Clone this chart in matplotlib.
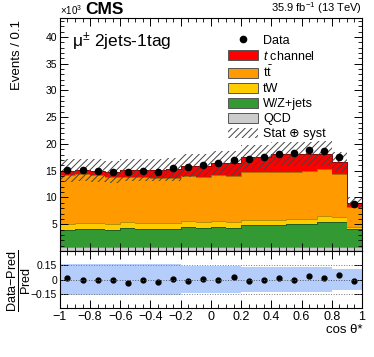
import numpy as np
import matplotlib.pyplot as plt
from matplotlib.patches import Patch
from matplotlib.lines import Line2D
from matplotlib.ticker import MultipleLocator, FixedLocator

plt.rcParams['font.family'] = ['Liberation Sans', 'DejaVu Sans']
plt.rcParams['mathtext.fontset'] = 'custom'
plt.rcParams['mathtext.rm'] = 'Liberation Sans'
plt.rcParams['mathtext.it'] = 'Liberation Sans:italic'
plt.rcParams['mathtext.bf'] = 'Liberation Sans:bold'
plt.rcParams['hatch.linewidth'] = 0.7

# 20 bins of cos theta*, width 0.1 (values in units of 10^3 events)
edges = np.round(np.linspace(-1, 1, 21), 2)
centers = 0.5 * (edges[:-1] + edges[1:])

qcd = [0.75] * 20
# cumulative tops
wz_top = [3.93, 4.18, 4.18, 3.87, 4.25, 4.06, 4.06, 4.06, 4.55, 4.37,
          4.50, 4.30, 4.87, 4.81, 4.81, 5.00, 5.00, 5.50, 5.43, 4.18]
tw_top = [5.00, 5.19, 5.19, 5.00, 5.43, 5.30, 5.19, 5.19, 5.62, 5.50,
          5.62, 5.43, 5.87, 5.80, 5.80, 5.93, 5.93, 6.50, 6.37, 4.50]
tt_top = [14.2, 14.4, 14.2, 13.9, 13.9, 13.75, 13.55, 13.55, 14.05, 13.9,
          14.2, 14.05, 14.7, 14.7, 14.8, 14.8, 15.0, 15.3, 14.4, 8.25]
tch_top = [15.0, 15.1, 15.0, 14.8, 15.1, 15.1, 15.1, 15.3, 15.9, 15.9,
           16.4, 16.4, 17.6, 17.6, 18.1, 18.1, 18.1, 18.2, 16.6, 9.05]
data = [15.13, 15.2, 14.94, 14.7, 14.7, 14.94, 14.8, 15.5, 15.75, 16.1,
        16.4, 17.0, 17.2, 17.5, 18.1, 18.25, 18.9, 18.6, 17.6, 8.86]
ratio = [0.021, 0.0, -0.007, -0.005, -0.035, -0.008, -0.025, 0.01, -0.015, 0.005,
         -0.007, 0.025, -0.015, -0.007, 0.017, 0.0, 0.035, 0.015, 0.045, -0.02]
unc_rel = [0.14] * 8 + [0.135] * 4 + [0.125] * 6 + [0.115] * 2
ratio_unc = [0.165] * 8 + [0.145] * 4 + [0.127] * 6 + [0.115] * 2

qcd = np.array(qcd)
wz_top = np.array(wz_top)
tw_top = np.array(tw_top)
tt_top = np.array(tt_top)
tch_top = np.array(tch_top)
unc_rel = np.array(unc_rel)
ratio_unc = np.array(ratio_unc)

c_tch = '#ff0000'
c_tt = '#ff9a00'
c_tw = '#ffcc00'
c_wz = '#339933'
c_qcd = '#cccccc'

fig = plt.figure(figsize=(3.74, 3.57), dpi=100)
ax = fig.add_axes([0.160, 0.297, 0.808, 0.652])
rax = fig.add_axes([0.160, 0.137, 0.808, 0.160])

zero = np.zeros(20)
layers = [(zero, qcd, c_qcd, '#888888'),
          (qcd, wz_top, c_wz, '#1f5f1f'),
          (wz_top, tw_top, c_tw, '#b38f00'),
          (tw_top, tt_top, c_tt, '#b36b00'),
          (tt_top, tch_top, c_tch, '#990000')]
for base, top, fc, ec in layers:
    ax.stairs(top, edges, baseline=base, fill=True, facecolor=fc, lw=0)
    ax.stairs(top, edges, color=ec, lw=0.7)

ax.stairs(tch_top * (1 + unc_rel), edges, baseline=tch_top * (1 - unc_rel),
          fill=True, facecolor='none', edgecolor='#444444', hatch='/////', lw=0)

ax.plot(centers, data, 'o', color='black', markersize=4.5)

ax.set_xlim(-1, 1)
ax.set_ylim(0, 43.5)
ax.yaxis.set_major_locator(FixedLocator([5, 10, 15, 20, 25, 30, 35, 40]))
ax.yaxis.set_minor_locator(MultipleLocator(1))
ax.xaxis.set_major_locator(MultipleLocator(0.2))
ax.xaxis.set_minor_locator(MultipleLocator(0.05))
ax.tick_params(axis='x', labelbottom=False)
for a in (ax, rax):
    a.tick_params(which='both', direction='in', top=True, right=True, labelsize=7.5)
    a.tick_params(which='major', length=6, width=0.7)
    a.tick_params(which='minor', length=3, width=0.6)
    for s in a.spines.values():
        s.set_linewidth(0.8)
ax.tick_params(axis='y', pad=2)

handles = [Line2D([], [], marker='o', color='black', ls='none', markersize=4.5),
           Patch(facecolor=c_tch, edgecolor='#555555', lw=0.7),
           Patch(facecolor=c_tt, edgecolor='#555555', lw=0.7),
           Patch(facecolor=c_tw, edgecolor='#555555', lw=0.7),
           Patch(facecolor=c_wz, edgecolor='#555555', lw=0.7),
           Patch(facecolor=c_qcd, edgecolor='#555555', lw=0.7),
           Patch(facecolor='none', edgecolor='#444444', hatch='/////', lw=0)]
labels = ['Data', r'$t$ channel', r't$\bar{\rm t}$', 'tW', 'W/Z+jets', 'QCD',
          'Stat \u2295 syst']
ax.legend(handles, labels, loc='upper left', bbox_to_anchor=(0.555, 0.93),
          frameon=False, fontsize=9, handlelength=2.4, handleheight=0.9,
          labelspacing=0.2, handletextpad=0.45, borderaxespad=0, borderpad=0)

ax.text(0.04, 0.875, '\u03bc$^{\\pm}$ 2jets-1tag', transform=ax.transAxes, fontsize=12.5)
fig.text(0.160, 0.953, r'$\times10^{3}$', fontsize=7, ha='left', va='bottom')
fig.text(0.228, 0.953, 'CMS', fontsize=12.5, fontweight='bold', ha='left', va='bottom')
fig.text(0.968, 0.955, r'35.9 fb$^{-1}$ (13 TeV)', fontsize=8, ha='right', va='bottom')
fig.text(0.045, 0.945, 'Events / 0.1', rotation=90, fontsize=9.5, ha='center', va='top')

# ratio panel
rax.stairs(ratio_unc, edges, baseline=-ratio_unc, fill=True, facecolor='#b5cdfb', lw=0)
rax.plot(centers, ratio, 'o', color='black', markersize=3.5)
rax.axhline(0, color='#555555', lw=0.7, ls=':')
rax.axhline(0.15, color='#777777', lw=0.7, ls=':')
rax.axhline(-0.15, color='#777777', lw=0.7, ls=':')
rax.set_xlim(-1, 1)
rax.set_ylim(-0.3, 0.3)
rax.yaxis.set_major_locator(FixedLocator([-0.15, 0, 0.15]))
rax.set_yticklabels(['\u22120.15', '0', '0.15'])
rax.xaxis.set_major_locator(MultipleLocator(0.2))
rax.xaxis.set_minor_locator(MultipleLocator(0.05))
rax.tick_params(axis='x', labelsize=9, pad=2)
rax.xaxis.set_major_formatter(plt.FuncFormatter(
    lambda v, p: ('%g' % round(v, 1)).replace('-', '\u2212')))
rax.tick_params(axis='y', labelsize=7.5, pad=2)

fig.text(0.968, 0.06, 'cos \u03b8*', fontsize=9.5, ha='right', va='bottom')
fig.text(0.052, 0.215, r'$\frac{\mathrm{Data\mathrm{-}Pred}}{\mathrm{Pred}}$',
         rotation=90, fontsize=13, ha='center', va='center')

fig.savefig('out.png', dpi=100)
